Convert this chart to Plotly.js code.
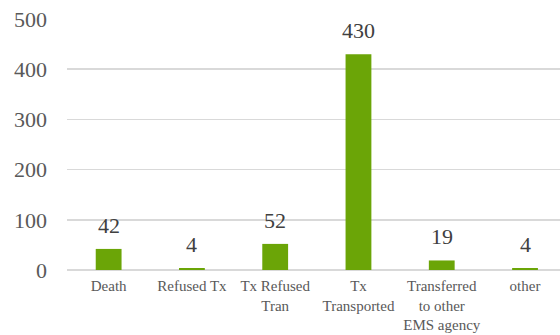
<!DOCTYPE html>
<html><head><meta charset="utf-8">
<script src="https://cdn.plot.ly/plotly-3.0.1.min.js"></script>
<style>html,body{margin:0;padding:0;background:#fff}</style>
</head><body>
<div id="chart" style="width:560px;height:335px"></div>
<script>
const categories = ["Death", "Refused Tx", "Tx Refused<br>Tran", "Tx<br>Transported", "Transferred<br>to other<br>EMS agency", "other"];
const values = [42, 4, 52, 430, 19, 4];
const yTicks = [0, 100, 200, 300, 400, 500];

const FONT = "'Liberation Serif', 'Times New Roman', serif";
const idx = categories.map((c, i) => i);
const trace = {
  type: 'bar',
  x: idx,
  y: values,
  marker: {color: '#6BA507'},
  hoverinfo: 'none'
};
const annotations = values.map((v, i) => ({
  x: i, y: v, xref: 'x', yref: 'y',
  text: String(v), showarrow: false,
  yanchor: 'bottom', yshift: 9,
  font: {family: FONT, size: 22, color: '#404040'}
}));
const layout = {
  width: 560, height: 335,
  margin: {l: 67, r: 0, t: 19, b: 65},
  paper_bgcolor: '#fff', plot_bgcolor: '#fff',
  bargap: 0.69,
  showlegend: false,
  font: {family: FONT, color: '#595959'},
  xaxis: {
    tickmode: 'array', tickvals: idx, ticktext: categories,
    range: [-0.5, 5.42],
    showgrid: false, zeroline: false, showline: false, ticks: '',
    ticklabelstandoff: 5,
    tickfont: {family: FONT, size: 15, color: '#595959'}
  },
  yaxis: {
    range: [0, 500],
    tickmode: 'array', tickvals: yTicks, ticktext: yTicks.map(String),
    showgrid: true, gridcolor: '#d9d9d9', gridwidth: 1.5,
    zeroline: true, zerolinecolor: '#d9d9d9', zerolinewidth: 1.5,
    showline: false, ticks: '',
    ticklabelstandoff: 19,
    tickfont: {family: FONT, size: 22, color: '#595959'}
  },
  annotations: annotations
};
Plotly.newPlot('chart', [trace], layout, {displayModeBar: false, staticPlot: true});
</script>
</body></html>
